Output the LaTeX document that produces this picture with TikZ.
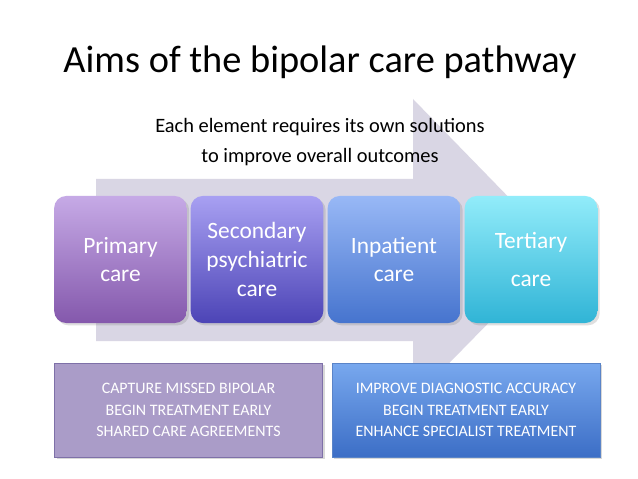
\documentclass[tikz,border=0pt]{standalone}
\usepackage{fontspec}
\setmainfont{Carlito}
\usetikzlibrary{shadows}
\definecolor{arrowgray}{HTML}{D9D6E4}
\definecolor{primtop}{HTML}{C6AAE6}
\definecolor{primbot}{HTML}{8458AC}
\definecolor{sectop}{HTML}{A8A0F2}
\definecolor{secbot}{HTML}{4C44B6}
\definecolor{inptop}{HTML}{98B8F6}
\definecolor{inpbot}{HTML}{4674CE}
\definecolor{tertop}{HTML}{92ECFA}
\definecolor{terbot}{HTML}{30B4D6}
\definecolor{aimleft}{HTML}{AA9CC8}
\definecolor{aimleftline}{HTML}{7E70A8}
\definecolor{aimtop}{HTML}{78A8EE}
\definecolor{aimbot}{HTML}{3C6EC6}
\definecolor{aimline}{HTML}{5A84C8}
\tikzset{
  stage/.style={rounded corners=12bp, minimum width=130bp, minimum height=127bp,
    text width=126bp, align=center, text=white, font=\fontsize{23.5}{29}\selectfont,
    drop shadow={opacity=0.25}},
  aim/.style={minimum width=268bp, minimum height=94bp, align=center, text=white,
    font=\fontsize{16}{21.5}\selectfont, line width=0.8pt, drop shadow={opacity=0.3}}
}
\begin{document}
\begin{tikzpicture}[x=1bp,y=-1bp]
  \useasboundingbox[fill=white] (0,0) rectangle (638,479);
  % big arrow behind the stages
  \fill[arrowgray] (96,179) -- (413,179) -- (413,99) -- (560,250) -- (413,400) -- (413,341) -- (96,341) -- cycle;
  \node (title) at (320,62) {\fontsize{38.5}{44}\selectfont Aims of the bipolar care pathway};
  \node[align=center, font=\fontsize{20.5}{30}\selectfont] (intro) at (320,142)
    {Each element requires its own solutions\\to improve overall outcomes};
  % stages
  \node[stage, top color=primtop, bottom color=primbot] (primary) at (120.5,259.5) {Primary\\care};
  \node[stage, top color=sectop, bottom color=secbot] (secondary) at (257,259.5) {Secondary\\psychiatric\\care};
  \node[stage, top color=inptop, bottom color=inpbot] (inpatient) at (394,259.5) {Inpatient\\care};
  \node[stage, top color=tertop, bottom color=terbot, font=\fontsize{23.5}{39}\selectfont] (tertiary) at (531,259.5) {Tertiary\\care};
  % aims
  \node[aim, fill=aimleft, draw=aimleftline] (aimprimary) at (188.5,410)
    {CAPTURE MISSED BIPOLAR\\BEGIN TREATMENT EARLY\\SHARED CARE AGREEMENTS};
  \node[aim, top color=aimtop, bottom color=aimbot, draw=aimline] (aimspecialist) at (466,410)
    {IMPROVE DIAGNOSTIC ACCURACY\\BEGIN TREATMENT EARLY\\ENHANCE SPECIALIST TREATMENT};
\end{tikzpicture}
\end{document}
